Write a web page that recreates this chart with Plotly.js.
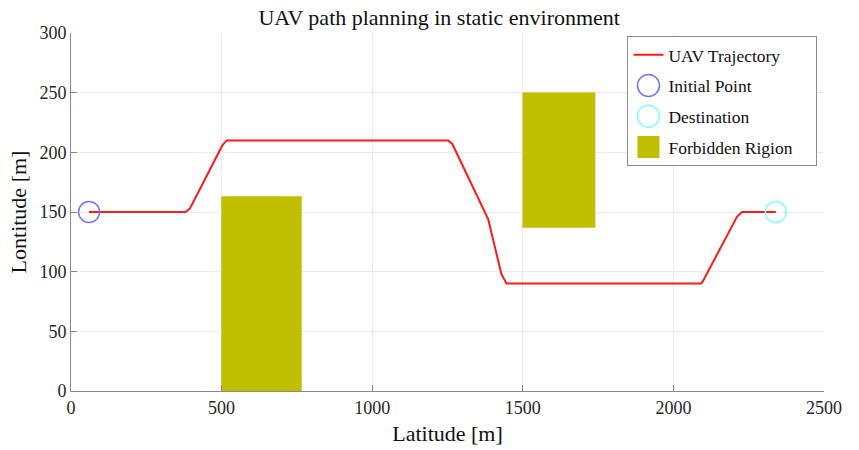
<!DOCTYPE html>
<html>
<head>
<meta charset="utf-8">
<script src="https://cdn.plot.ly/plotly-3.0.1.min.js"></script>
<style>
  html, body { margin: 0; padding: 0; background: #ffffff; }
  #chart { width: 859px; height: 450px; }
</style>
</head>
<body>
<div id="chart"></div>
<script>
// UAV trajectory waypoints (latitude / longitude in metres)
const pathX = [60, 380, 395, 503, 517, 1252, 1266, 1368, 1385, 1429, 1446, 2092, 2098, 2211, 2228, 2340];
const pathY = [150, 150, 153, 206, 210, 210, 207, 154, 144, 98, 90, 90, 92, 146, 150, 150];

// Start and goal
const startPoint = [60, 150];
const goalPoint = [2340, 150];

// Forbidden regions as axis-aligned boxes
const regionXMin = [500, 1500];
const regionXMax = [765, 1740];
const regionYMin = [0, 137];
const regionYMax = [163, 250];

const xTicks = [0, 500, 1000, 1500, 2000, 2500];
const yTicks = [0, 50, 100, 150, 200, 250, 300];

const serif = '"Liberation Serif", "Times New Roman", serif';
const regionColor = '#bfbf00';

const traces = [];

traces.push({
  x: pathX, y: pathY,
  type: 'scatter', mode: 'lines',
  name: 'UAV Trajectory',
  legendgroup: 'a',
  line: { color: '#ff1a1a', width: 2 },
  hoverinfo: 'skip'
});

traces.push({
  x: [startPoint[0]], y: [startPoint[1]],
  type: 'scatter', mode: 'markers',
  name: 'Initial Point',
  legendgroup: 'b',
  marker: { symbol: 'circle-open', size: 21, color: '#7373ff', line: { width: 1.5, color: '#7373ff' } }
});

traces.push({
  x: [goalPoint[0]], y: [goalPoint[1]],
  type: 'scatter', mode: 'markers',
  name: 'Destination',
  legendgroup: 'c',
  marker: { symbol: 'circle-open', size: 21, color: '#80ffff', line: { width: 1.5, color: '#80ffff' } }
});

// Filled boxes for each forbidden region
for (let i = 0; i < regionXMin.length; i++) {
  traces.push({
    x: [regionXMin[i], regionXMax[i], regionXMax[i], regionXMin[i], regionXMin[i]],
    y: [regionYMin[i], regionYMin[i], regionYMax[i], regionYMax[i], regionYMin[i]],
    type: 'scatter', mode: 'lines',
    fill: 'toself',
    fillcolor: regionColor,
    line: { color: regionColor, width: 0.5 },
    showlegend: false,
    hoverinfo: 'skip'
  });
}

// Legend swatch for the forbidden regions
traces.push({
  x: [null], y: [null],
  type: 'scatter', mode: 'markers',
  name: 'Forbidden Rigion',
  legendgroup: 'd',
  marker: { symbol: 'square', size: 22, color: regionColor }
});

const axisCommon = {
  showline: true,
  linecolor: '#8a8a8a',
  linewidth: 1,
  mirror: false,
  showgrid: true,
  gridcolor: '#ebebeb',
  gridwidth: 1,
  zeroline: false,
  ticks: 'inside',
  ticklen: 6,
  tickcolor: '#8a8a8a',
  tickfont: { family: serif, size: 18, color: '#262626' }
};

const layout = {
  width: 859,
  height: 450,
  margin: { l: 71, r: 34.5, t: 33.3, b: 58.7 },
  paper_bgcolor: '#ffffff',
  plot_bgcolor: '#ffffff',
  font: { family: serif, color: '#111111' },
  title: {
    text: 'UAV path planning in static environment',
    font: { family: serif, size: 22, color: '#111111' },
    xref: 'paper', x: 0.489, xanchor: 'center',
    yref: 'container', y: 0.962, yanchor: 'middle'
  },
  xaxis: Object.assign({}, axisCommon, {
    range: [0, 2500],
    tickvals: xTicks,
    ticktext: xTicks.map(String),
    title: { text: 'Latitude [m]', font: { family: serif, size: 22, color: '#111111' }, standoff: 9 }
  }),
  yaxis: Object.assign({}, axisCommon, {
    range: [0, 300],
    tickvals: yTicks,
    ticktext: yTicks.map(String),
    title: { text: 'Lontitude [m]', font: { family: serif, size: 22, color: '#111111' }, standoff: 6 }
  }),
  showlegend: true,
  legend: {
    x: 0.739, xanchor: 'left',
    y: 0.992, yanchor: 'top',
    bgcolor: '#ffffff',
    bordercolor: '#8c8c8c',
    borderwidth: 1,
    tracegroupgap: 5,
    font: { family: serif, size: 17.5, color: '#111111' }
  }
};

// Legend symbols are capped at 16px; redraw them at the marker size used in the plot
const legendSymbols = {
  'Initial Point': 'M11,0A11,11 0 1,1 0,-11A11,11 0 0,1 11,0Z',
  'Destination': 'M11,0A11,11 0 1,1 0,-11A11,11 0 0,1 11,0Z',
  'Forbidden Rigion': 'M11,11H-11V-11H11Z'
};
const legendBoxWidth = 189;

Plotly.newPlot('chart', traces, layout, { staticPlot: true, displayModeBar: false }).then(function (gd) {
  gd.querySelectorAll('.legend .traces').forEach(function (item) {
    const label = item.querySelector('.legendtext');
    const sym = item.querySelector('.legendpoints path.scatterpts');
    if (!label || !sym) return;
    const d = legendSymbols[label.textContent];
    if (d) sym.setAttribute('d', d);
  });
  // leave some empty room right of the legend labels
  const bg = gd.querySelector('.legend rect.bg');
  if (bg) bg.setAttribute('width', legendBoxWidth);
});
</script>
</body>
</html>
